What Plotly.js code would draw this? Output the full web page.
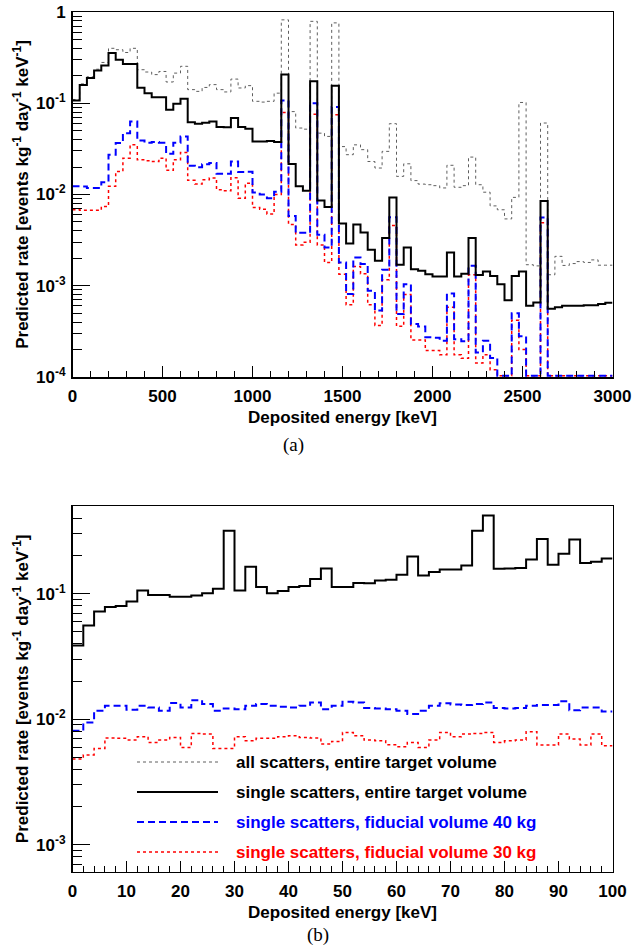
<!DOCTYPE html>
<html>
<head>
<meta charset="utf-8">
<script src="https://cdn.plot.ly/plotly-3.0.1.min.js"></script>
<style>html,body{margin:0;padding:0;background:#fff;}#chart{width:644px;height:951px;}</style>
</head>
<body>
<div id="chart"></div>
<script>
// ---------- DATA ----------
// (a) 0-3000 keV, 40 keV bins
const topBinStart = 0;
const topBinWidth = 40;
const topAllScatters = [
  0.110, 0.163, 0.195, 0.236, 0.280, 0.400, 0.386, 0.360, 0.400, 0.233,
  0.220, 0.206, 0.223, 0.171, 0.214, 0.254, 0.141, 0.135, 0.149, 0.160,
  0.141, 0.133, 0.184, 0.147, 0.156, 0.105, 0.103, 0.105, 0.129, 0.820,
  0.081, 0.0535, 0.052, 0.790, 0.047, 0.0433, 0.760, 0.0335, 0.0273, 0.035,
  0.031, 0.023, 0.0195, 0.0297, 0.0597, 0.0158, 0.0217, 0.0142, 0.013, 0.0128,
  0.0125, 0.0118, 0.0209, 0.012, 0.0125, 0.0257, 0.0128, 0.0106, 0.0075, 0.0068,
  0.0054, 0.0093, 0.102, 0.0017, 0.00165, 0.0607, 0.00132, 0.0021, 0.00167, 0.00175,
  0.00184, 0.0018, 0.00192, 0.00168, 0.00168
];
const topSingleAll = [
  0.107, 0.158, 0.189, 0.229, 0.260, 0.355, 0.300, 0.269, 0.270, 0.148,
  0.129, 0.116, 0.116, 0.085, 0.099, 0.112, 0.062, 0.0596, 0.061, 0.063,
  0.055, 0.0545, 0.069, 0.055, 0.0525, 0.038, 0.038, 0.0385, 0.0375, 0.206,
  0.0216, 0.0123, 0.011, 0.174, 0.0086, 0.0073, 0.156, 0.0048, 0.0029, 0.0047,
  0.00384, 0.00248, 0.00188, 0.00333, 0.0093, 0.0017, 0.00263, 0.00152, 0.00146, 0.00134,
  0.00126, 0.00126, 0.00232, 0.00126, 0.00135, 0.00333, 0.00131, 0.00143, 0.00128, 0.00104,
  0.000695, 0.00128, 0.00143, 0.000603, 0.000656, 0.0085, 0.000558, 0.00058, 0.000603, 0.000605,
  0.000605, 0.00061, 0.00061, 0.000632, 0.00065
];
const topFid40 = [
  0.0123, 0.0122, 0.0118, 0.0118, 0.0136, 0.0273, 0.0366, 0.047, 0.063, 0.039,
  0.037, 0.0375, 0.037, 0.028, 0.037, 0.0433, 0.0207, 0.0199, 0.0215, 0.0222,
  0.0169, 0.0169, 0.023, 0.0176, 0.0178, 0.0105, 0.010, 0.0091, 0.0107, 0.107,
  0.0058, 0.0038, 0.0038, 0.100, 0.00362, 0.00263, 0.091, 0.0018, 0.00081, 0.00204,
  0.00173, 0.00088, 0.000536, 0.0015, 0.00565, 0.00049, 0.00104, 0.00038, 0.000357, 0.000273,
  0.00027, 0.00025, 0.00082, 0.00026, 0.000247, 0.00166, 0.000186, 0.00025, 0.000162, 0,
  0, 0.0005, 0.00028, 0, 0, 0.0056, 0, 0, 0, 0,
  0, 0, 0, 0, 0
];
const topFid30 = [
  0.0068, 0.0067, 0.0067, 0.0067, 0.0074, 0.0123, 0.0179, 0.025, 0.035, 0.024,
  0.0235, 0.023, 0.025, 0.0184, 0.024, 0.0289, 0.0143, 0.013, 0.0145, 0.0152,
  0.0113, 0.011, 0.0153, 0.0091, 0.0133, 0.0072, 0.0069, 0.0061, 0.010, 0.079,
  0.0047, 0.0028, 0.003, 0.076, 0.0028, 0.0018, 0.075, 0.00134, 0.00062, 0.00163,
  0.00135, 0.00062, 0.000367, 0.00116, 0.00457, 0.00036, 0.0008, 0.000255, 0.000255, 0.000195,
  0.000195, 0.000175, 0.00058, 0.000175, 0.00016, 0.00132, 0.000142, 0.000175, 0.00012, 0,
  0, 0.00042, 0.0002, 0, 0, 0.0049, 0, 0, 0, 0,
  0, 0, 0, 0, 0
];

// (b) 0-100 keV, 2 keV bins
const botBinStart = 0;
const botBinWidth = 2;
const botSingleAll = [
  0.0387, 0.0559, 0.0723, 0.0783, 0.080, 0.0868, 0.106, 0.0977, 0.0977, 0.0947,
  0.0947, 0.0967, 0.101, 0.1096, 0.318, 0.106, 0.164, 0.113, 0.101, 0.105,
  0.113, 0.115, 0.131, 0.159, 0.113, 0.113, 0.122, 0.121, 0.1276, 0.129,
  0.1416, 0.198, 0.140, 0.149, 0.156, 0.156, 0.168, 0.318, 0.420, 0.158,
  0.159, 0.160, 0.187, 0.273, 0.170, 0.208, 0.270, 0.176, 0.180, 0.191
];
const botFid40 = [
  0.0081, 0.0094, 0.0117, 0.0128, 0.0128, 0.0119, 0.0128, 0.0124, 0.0117, 0.01345,
  0.0124, 0.0142, 0.0132, 0.0117, 0.0122, 0.012, 0.0128, 0.0132, 0.0128, 0.0126,
  0.0124, 0.0128, 0.0136, 0.012, 0.0128, 0.0138, 0.0136, 0.0123, 0.0122, 0.012,
  0.0117, 0.011, 0.0117, 0.0128, 0.0134, 0.0131, 0.013, 0.0132, 0.0136, 0.0123,
  0.0122, 0.0123, 0.0128, 0.013, 0.013, 0.0139, 0.0118, 0.0124, 0.0124, 0.0115
];
const botFid30 = [
  0.00482, 0.00518, 0.00585, 0.00708, 0.00704, 0.00683, 0.00726, 0.00654, 0.00683, 0.00717,
  0.00596, 0.00771, 0.00762, 0.00585, 0.00585, 0.00726, 0.00674, 0.00704, 0.00704, 0.00726,
  0.00739, 0.00717, 0.00708, 0.00634, 0.00666, 0.00785, 0.00739, 0.00683, 0.00674, 0.00627,
  0.00604, 0.00654, 0.00596, 0.00683, 0.00785, 0.00726, 0.00762, 0.00771, 0.00785, 0.00654,
  0.00674, 0.00683, 0.00795, 0.00623, 0.00623, 0.00762, 0.00695, 0.00623, 0.00762, 0.00615
];

const legendLabels = [
  'all scatters, entire target volume',
  'single scatters, entire target volume',
  'single scatters, fiducial volume 40 kg',
  'single scatters, fiducial volume 30 kg'
];
const topXTicks = [0, 500, 1000, 1500, 2000, 2500, 3000];
const botXTicks = [0, 10, 20, 30, 40, 50, 60, 70, 80, 90, 100];
const xTitle = 'Deposited energy [keV]';
const yTitle = 'Predicted rate [events kg<sup>-1</sup> day<sup>-1</sup> keV<sup>-1</sup>]';

// ---------- STYLES ----------
const FONT = 'Liberation Sans, Arial, Helvetica, sans-serif';
const styles = [
  {color: '#5e5e5e', width: 1, dash: '3px,3px'},
  {color: '#000000', width: 2, dash: 'solid'},
  {color: '#0000ff', width: 2, dash: '7px,4px'},
  {color: '#ff0000', width: 1.5, dash: 'dot'}
];
const textColors = ['#000000', '#000000', '#0000ff', '#ff0000'];

const W = 644, H = 951;
const px = x => x / W;
const py = y => 1 - y / H;

function step(start, width, vals, floor) {
  const xs = [], ys = [];
  for (let i = 0; i < vals.length; i++) {
    xs.push(start + i * width);
    ys.push(vals[i] > 0 ? vals[i] : floor);
  }
  xs.push(start + vals.length * width);
  ys.push(vals[vals.length - 1] > 0 ? vals[vals.length - 1] : floor);
  return {xs, ys};
}

function trace(start, width, vals, floor, st, xa, ya) {
  const s = step(start, width, vals, floor);
  return {
    x: s.xs, y: s.ys, mode: 'lines', type: 'scatter',
    line: {shape: 'hv', color: st.color, width: st.width, dash: st.dash},
    xaxis: xa, yaxis: ya, hoverinfo: 'skip', showlegend: false
  };
}

const topFloor = 1.03e-4;
const botFloor = 6.3e-4;
const traces = [
  trace(topBinStart, topBinWidth, topAllScatters, topFloor, styles[0], 'x', 'y'),
  trace(topBinStart, topBinWidth, topFid30, topFloor, styles[3], 'x', 'y'),
  trace(topBinStart, topBinWidth, topFid40, topFloor, styles[2], 'x', 'y'),
  trace(topBinStart, topBinWidth, topSingleAll, topFloor, styles[1], 'x', 'y'),
  trace(botBinStart, botBinWidth, botFid30, botFloor, styles[3], 'x2', 'y2'),
  trace(botBinStart, botBinWidth, botFid40, botFloor, styles[2], 'x2', 'y2'),
  trace(botBinStart, botBinWidth, botSingleAll, botFloor, styles[1], 'x2', 'y2')
];

function minorLog(lo, hi) {
  const v = [];
  for (let e = lo; e < hi; e++) for (let m = 2; m <= 9; m++) v.push(m * Math.pow(10, e));
  return v;
}
function logLabel(e) { return e === 0 ? '1' : '10<sup>' + e + '</sup>'; }

const tickFont = {family: FONT, size: 17, color: '#000', weight: 'bold'};
const titleFont = {family: FONT, size: 17, color: '#000', weight: 'bold'};

const xDom = [px(72.5), px(612.5)];
const topDom = [py(377), py(12)];
const botDom = [py(871.7), py(506)];

function xAxis(range, ticks, minorStep, dom, anchor) {
  return {
    domain: dom, anchor: anchor, range: range, tickmode: 'array', tickvals: ticks,
    ticktext: ticks.map(String), ticks: 'inside', ticklen: 11, tickwidth: 1.3, tickcolor: '#000',
    minor: {ticks: 'inside', ticklen: 6, tickwidth: 1, tickcolor: '#000', dtick: minorStep, showgrid: false},
    showline: true, linewidth: 1.5, linecolor: '#000', mirror: true, showgrid: false, zeroline: false,
    tickfont: tickFont, ticklabelstandoff: 3,
    title: {text: xTitle, font: titleFont, standoff: 6}, automargin: false, fixedrange: true
  };
}
function yAxis(range, exps, dom, anchor) {
  return {
    type: 'log', domain: dom, anchor: anchor, range: range, tickmode: 'array',
    tickvals: exps.map(e => Math.pow(10, e)), ticktext: exps.map(logLabel),
    ticks: 'inside', ticklen: 17, tickwidth: 1.3, tickcolor: '#000',
    minor: {ticks: 'inside', ticklen: 9, tickwidth: 1, tickcolor: '#000',
            tickvals: minorLog(Math.floor(range[0]), Math.ceil(range[1])), showgrid: false},
    showline: true, linewidth: 1.5, linecolor: '#000', mirror: true, showgrid: false, zeroline: false,
    tickfont: tickFont, ticklabelstandoff: 2,
    title: {text: yTitle, font: titleFont, standoff: 3}, automargin: false, fixedrange: true
  };
}

// legend (custom, ROOT-style) inside panel (b)
const legRows = [762, 792, 822, 852];
const shapes = [], annotations = [];
legendLabels.forEach((lab, i) => {
  shapes.push({type: 'line', xref: 'paper', yref: 'paper',
    x0: px(137), x1: px(218), y0: py(legRows[i]), y1: py(legRows[i]),
    line: {color: styles[i].color, width: styles[i].width, dash: styles[i].dash}});
  annotations.push({xref: 'paper', yref: 'paper', x: px(234), y: py(legRows[i]),
    xanchor: 'left', yanchor: 'middle', showarrow: false, text: lab,
    font: {family: FONT, size: 17, color: textColors[i], weight: 'bold'}});
});
annotations.push({xref: 'paper', yref: 'paper', x: px(293), y: py(445), xanchor: 'center', yanchor: 'middle',
  showarrow: false, text: '(a)', font: {family: 'Liberation Serif, DejaVu Serif, serif', size: 19, color: '#000'}});
annotations.push({xref: 'paper', yref: 'paper', x: px(318), y: py(935), xanchor: 'center', yanchor: 'middle',
  showarrow: false, text: '(b)', font: {family: 'Liberation Serif, DejaVu Serif, serif', size: 19, color: '#000'}});

const layout = {
  width: W, height: H, margin: {l: 0, r: 0, t: 0, b: 0},
  paper_bgcolor: '#fff', plot_bgcolor: '#fff', showlegend: false,
  xaxis: xAxis([0, 3000], topXTicks, 100, xDom, 'y'),
  yaxis: yAxis([-4, 0], [-4, -3, -2, -1, 0], topDom, 'x'),
  xaxis2: xAxis([0, 100], botXTicks, 2, xDom, 'y2'),
  yaxis2: yAxis([Math.log10(6.1e-4), Math.log10(0.5)], [-3, -2, -1], botDom, 'x2'),
  shapes: shapes, annotations: annotations
};

Plotly.newPlot('chart', traces, layout, {staticPlot: true, displayModeBar: false});
</script>
</body>
</html>
